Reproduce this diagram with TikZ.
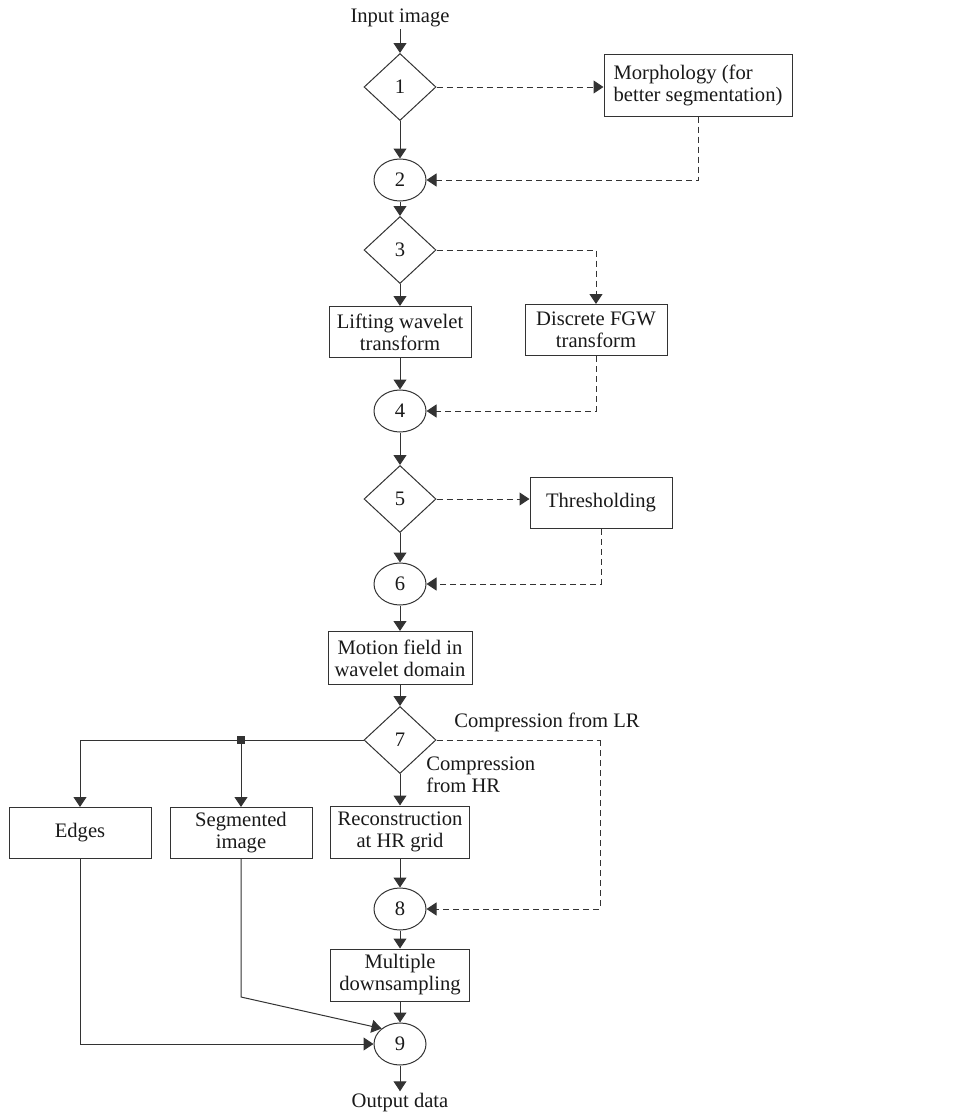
\documentclass[tikz,border=0pt]{standalone}
\usepackage{fontspec}
\setmainfont{Liberation Serif}
\usetikzlibrary{shapes.geometric,arrows.meta}
\definecolor{ln}{HTML}{333333}
\tikzset{
  txt/.style={font=\fontsize{10.3pt}{11pt}\selectfont, text=black!90, inner sep=1pt},
  dia/.style={diamond, draw=ln, line width=0.5pt, minimum width=36pt, minimum height=33.5pt, inner sep=0pt, txt},
  ell/.style={ellipse, draw=ln, line width=0.5pt, minimum width=26pt, minimum height=21pt, inner sep=0pt, txt},
  bx/.style={rectangle, draw=ln, line width=0.5pt, minimum width=71pt, minimum height=25.5pt, align=center, inner sep=1pt, txt},
  conn/.style={draw=ln, line width=0.5pt, -{Triangle[length=5pt,width=6.5pt]}},
  dconn/.style={conn, dash pattern=on 3pt off 2pt},
  dline/.style={draw=ln, line width=0.5pt, dash pattern=on 3pt off 2pt},
}
\begin{document}
\begin{tikzpicture}[x=0.5pt,y=-0.5pt]
\useasboundingbox (0,0) rectangle (967,1114);
% nodes
\node[txt] (in) at (400,18) {Input image};
\node[dia] (d1) at (400,87) {1};
\node[ell] (c2) at (400,180) {2};
\node[bx, minimum width=94pt, minimum height=31pt, align=left] (morph) at (698,85) {Morphology (for\\better segmentation)};
\node[dia] (d3) at (400,250) {3};
\node[bx] (lift) at (400,332) {Lifting wavelet\\transform};
\node[bx] (fgw) at (596,330) {Discrete FGW\\transform};
\node[ell] (c4) at (400,411) {4};
\node[dia] (d5) at (400,499) {5};
\node[bx] (thr) at (601,503) {Thresholding};
\node[ell] (c6) at (400,584) {6};
\node[bx, minimum width=72pt, minimum height=26.5pt] (motion) at (400,658) {Motion field in\\wavelet domain};
\node[dia] (d7) at (400,740) {7};
\node[txt] (lr) at (547,722) {Compression from LR};
\node[txt, anchor=west, align=left] (hr) at (424,775) {Compression\\from HR};
\node[bx] (edges) at (80,833) {Edges};
\node[bx] (seg) at (241,833) {Segmented\\image};
\node[bx, minimum width=69.5pt, minimum height=26pt] (recon) at (400,832) {Reconstruction\\at HR grid};
\node[ell] (c8) at (400,909) {8};
\node[bx, minimum width=69.5pt, minimum height=26pt] (multi) at (400,975) {Multiple\\downsampling};
\node[ell] (c9) at (400,1044) {9};
\node[txt] (out) at (400,1103) {Output data};
\coordinate (jn) at (241,740);
\node[rectangle, fill=ln, minimum size=4pt, inner sep=0pt] (sq) at (jn) {};
\coordinate (lrc) at (600,740);
\coordinate (sbend) at (241,997);
% main column
\draw[conn] (in) -- (d1);
\draw[conn] (d1) -- (c2);
\draw[conn] (c2) -- (d3);
\draw[conn] (d3) -- (lift);
\draw[conn] (lift) -- (c4);
\draw[conn] (c4) -- (d5);
\draw[conn] (d5) -- (c6);
\draw[conn] (c6) -- (motion);
\draw[conn] (motion) -- (d7);
\draw[conn] (d7) -- (recon);
\draw[conn] (recon) -- (c8);
\draw[conn] (c8) -- (multi);
\draw[conn] (multi) -- (c9);
\draw[conn] (c9) -- (out);
% dashed side branches
\draw[dconn] (d1.east) -- (d1.east -| morph.west);
\draw[dconn] (morph.south) |- (c2.east);
\draw[dconn] (d3.east) -| (fgw.north);
\draw[dconn] (fgw.south) |- (c4.east);
\draw[dconn] (d5.east) -- (d5.east -| thr.west);
\draw[dconn] (thr.south) |- (c6.east);
\draw[dline] (d7.east) -- (lrc);
\draw[dconn] (lrc) |- (c8.east);
% left branches
\draw[conn] (d7.west) -| (edges.north);
\draw[conn] (sq.center) -- (seg.north);
\draw[conn] (edges.south) |- (c9.west);
\draw[conn] (seg.south) -- (sbend) -- (c9.140);
\end{tikzpicture}
\end{document}
